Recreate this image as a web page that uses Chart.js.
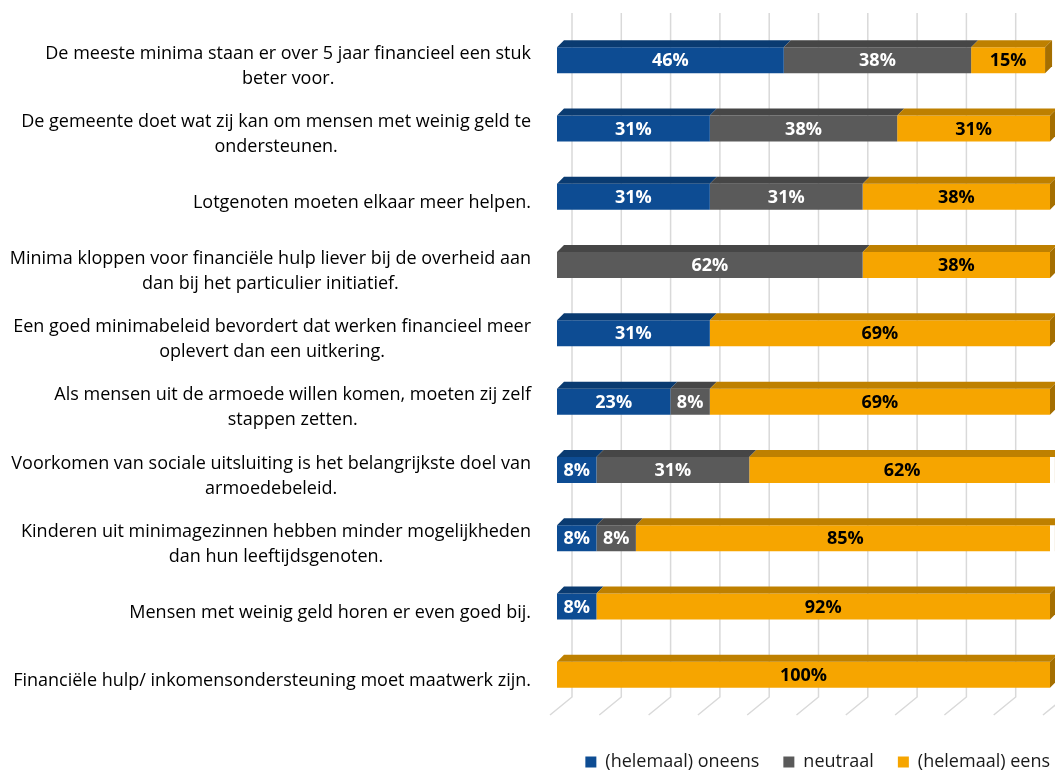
<!DOCTYPE html>
<html>
<head>
<meta charset="utf-8">
<script src="https://cdn.jsdelivr.net/npm/chart.js@4"></script>
<style>
  html, body { margin: 0; padding: 0; background: #ffffff; }
  #wrap { width: 1055px; height: 770px; }
</style>
</head>
<body>
<div id="wrap"><canvas id="stellingen_chart"></canvas></div>
<script>
// stellingen (y-as), elke regel een eigen string
const stellingen = [
  ['De meeste minima staan er over 5 jaar financieel een stuk', 'beter voor.'],
  ['De gemeente doet wat zij kan om mensen met weinig geld te', 'ondersteunen.'],
  ['Lotgenoten moeten elkaar meer helpen.'],
  ['Minima kloppen voor financiële hulp liever bij de overheid aan', 'dan bij het particulier initiatief.'],
  ['Een goed minimabeleid bevordert dat werken financieel meer', 'oplevert dan een uitkering.'],
  ['Als mensen uit de armoede willen komen, moeten zij zelf', 'stappen zetten.'],
  ['Voorkomen van sociale uitsluiting is het belangrijkste doel van', 'armoedebeleid.'],
  ['Kinderen uit minimagezinnen hebben minder mogelijkheden', 'dan hun leeftijdsgenoten.'],
  ['Mensen met weinig geld horen er even goed bij.'],
  ['Financiële hulp/ inkomensondersteuning moet maatwerk zijn.']
]

const oneens_perc   = [46, 31, 31, 0, 31, 23, 8, 8, 8, 0]
const neutraal_perc = [38, 38, 31, 62, 0, 8, 31, 8, 0, 0]
const eens_perc     = [15, 31, 38, 38, 69, 69, 62, 85, 92, 100]

const grid_ticks = [0, 10, 20, 30, 40, 50, 60, 70, 80, 90, 100]

const label_font = '18px "Open Sans"'
const value_font = 'bold 18px "Open Sans"'

// kleuren: voorkant, bovenkant, zijkant
const face_colors = [
  { front: '#0D4C93', top: '#0A3B71', side: '#08305D', text: '#ffffff' },
  { front: '#5A5A5A', top: '#464646', side: '#3A3A3A', text: '#ffffff' },
  { front: '#F6A500', top: '#BE8000', side: '#A56F00', text: '#000000' }
]

const depth_x = 7
const depth_y = -7

// legenda iets lager en meer naar rechts zetten
const legend_shift_plugin = {
  id: 'legend_shift',
  afterLayout(chart) {
    const lg = chart.legend
    const dy = 762 - (lg.top + lg.options.labels.padding + 9)
    lg.top += dy
    lg.bottom += dy
    lg.left += 24
    lg.right += 24
  }
}

// achterwand rasterlijnen + vloer diagonalen
const grid_plugin = {
  id: 'grid_3d',
  beforeDatasetsDraw(chart) {
    const ctx = chart.ctx
    const x_scale = chart.scales.x
    const top_y = 13
    const floor_back = chart.chartArea.bottom - 12
    ctx.save()
    ctx.strokeStyle = '#d9d9d9'
    ctx.lineWidth = 1.5
    grid_ticks.forEach(v => {
      const xb = x_scale.getPixelForValue(v) + 15
      ctx.beginPath()
      ctx.moveTo(xb, top_y)
      ctx.lineTo(xb, floor_back)
      ctx.lineTo(xb - 22, floor_back + 18)
      ctx.stroke()
    })
    ctx.restore()
  }
}

// 3D boven- en zijvlakken van de balken
const bar3d_plugin = {
  id: 'bar_3d',
  afterDatasetsDraw(chart) {
    const ctx = chart.ctx
    ctx.save()
    const n = chart.data.labels.length
    for (let i = 0; i < n; i++) {
      let last = -1
      chart.data.datasets.forEach((ds, d) => { if (ds.data[i] > 0) last = d })
      chart.data.datasets.forEach((ds, d) => {
        if (!(ds.data[i] > 0)) return
        const el = chart.getDatasetMeta(d).data[i]
        const left = Math.min(el.base, el.x)
        const right = Math.max(el.base, el.x)
        const top = el.y - el.height / 2
        const bottom = el.y + el.height / 2
        ctx.fillStyle = face_colors[d].top
        ctx.beginPath()
        ctx.moveTo(left, top)
        ctx.lineTo(right, top)
        ctx.lineTo(right + depth_x, top + depth_y)
        ctx.lineTo(left + depth_x, top + depth_y)
        ctx.closePath()
        ctx.fill()
        if (d === last) {
          ctx.fillStyle = face_colors[d].side
          ctx.beginPath()
          ctx.moveTo(right, top)
          ctx.lineTo(right + depth_x, top + depth_y)
          ctx.lineTo(right + depth_x, bottom + depth_y)
          ctx.lineTo(right, bottom)
          ctx.closePath()
          ctx.fill()
        }
        // percentage label
        ctx.fillStyle = face_colors[d].text
        ctx.font = value_font
        ctx.textAlign = 'center'
        ctx.textBaseline = 'middle'
        ctx.fillText(ds.data[i] + '%', (left + right) / 2, el.y + 1)
      })
    }
    ctx.restore()
  }
}

// categorie labels: blok rechts uitgelijnd, regels onderling gecentreerd
const labels_plugin = {
  id: 'cat_labels',
  afterDraw(chart) {
    const ctx = chart.ctx
    const y_scale = chart.scales.y
    const right_edge = 531
    const line_h = 25
    ctx.save()
    ctx.font = label_font
    ctx.fillStyle = '#000000'
    ctx.textAlign = 'center'
    ctx.textBaseline = 'middle'
    stellingen.forEach((lines, i) => {
      const cy = y_scale.getPixelForValue(i) + 6
      const w = Math.max(...lines.map(l => ctx.measureText(l).width))
      const cx = right_edge - w / 2
      const y0 = cy - (lines.length - 1) * line_h / 2
      lines.forEach((l, k) => ctx.fillText(l, cx, y0 + k * line_h))
    })
    ctx.restore()
  }
}

const ctx = document.getElementById('stellingen_chart').getContext('2d')

const chart = new Chart(ctx, {
  type: 'bar',
  data: {
    labels: stellingen.map(s => s.join(' ')),
    datasets: [
      { label: '(helemaal) oneens', data: oneens_perc, backgroundColor: face_colors[0].front },
      { label: 'neutraal', data: neutraal_perc, backgroundColor: face_colors[1].front },
      { label: '(helemaal) eens', data: eens_perc, backgroundColor: face_colors[2].front }
    ]
  },
  options: {
    indexAxis: 'y',
    responsive: true,
    maintainAspectRatio: false,
    animation: false,
    datasets: {
      bar: { categoryPercentage: 1, barPercentage: 0.38 }
    },
    layout: {
      padding: { left: 0, right: 5, top: 26, bottom: 0 }
    },
    plugins: {
      legend: {
        position: 'bottom',
        align: 'end',
        labels: {
          boxWidth: 11,
          boxHeight: 11,
          padding: 24,
          color: '#1a1a1a',
          font: { family: 'Open Sans', size: 18 }
        }
      },
      tooltip: { enabled: false }
    },
    scales: {
      x: {
        stacked: true,
        min: 0,
        max: 100,
        grid: { display: false },
        border: { display: false },
        ticks: { display: false },
        afterFit(scale) { scale.height = 9 }
      },
      y: {
        stacked: true,
        grid: { display: false },
        border: { display: false },
        ticks: { display: false },
        afterFit(scale) { scale.width = 557 }
      }
    }
  },
  plugins: [legend_shift_plugin, grid_plugin, bar3d_plugin, labels_plugin]
})
</script>
</body>
</html>
